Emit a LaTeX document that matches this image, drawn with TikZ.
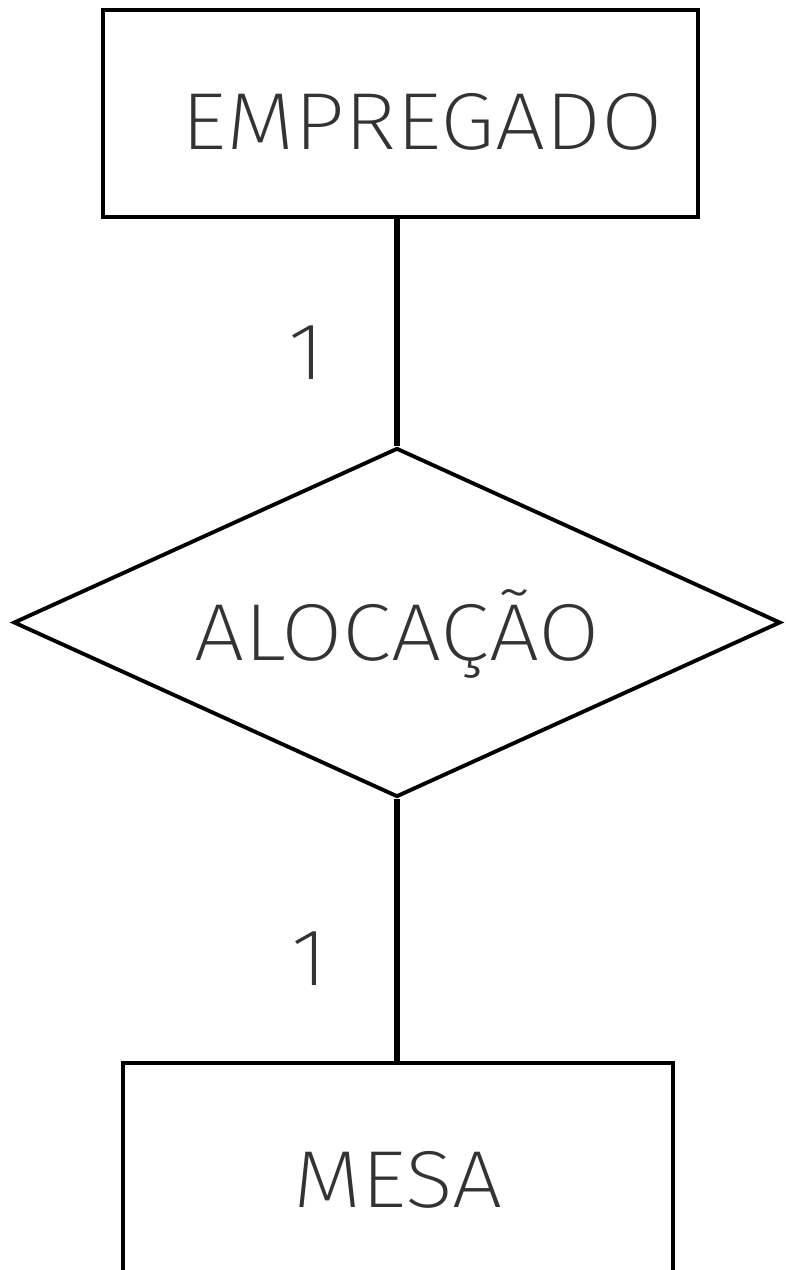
\documentclass[tikz,border=0pt]{standalone}
\usepackage{fontspec}
\newfontfamily\cadfont[FakeStretch=1.1]{Fira Sans ExtraLight}
\usetikzlibrary{shapes.geometric}

\begin{document}
\begin{tikzpicture}[every node/.style={font=\cadfont\fontsize{23}{23}\selectfont, text=black!80},
  entity/.style={draw=black, line width=1.3pt, rectangle, inner sep=0pt},
  relation/.style={draw=black, line width=1.1pt, diamond, shape aspect=2.2, inner sep=0pt},
  link/.style={line width=1.5pt}]
\useasboundingbox (0, 0) rectangle (7.85, 12.7);

\node[entity, minimum width=5.95cm, minimum height=2.07cm] (emp) at (4.005, 11.565) {\hspace*{0.43cm}\raisebox{-0.36cm}[0pt][0pt]{EMPREGADO}};
\node[relation, minimum width=7.67cm, minimum height=3.49cm] (rel) at (3.97, 6.475) {\raisebox{-0.38cm}[0pt][0pt]{ALOCAÇÃO}};
\node[entity, minimum width=5.5cm, minimum height=2.34cm] (mesa) at (3.98, 0.9) {MESA};

\draw[link] (emp.south -| rel.north) -- (rel.north) node[pos=0.59, xshift=-0.9cm] (c1) {1};
\draw[link] (rel.south) -- (mesa.north -| rel.south) node[pos=0.61, xshift=-0.87cm] (c2) {1};
\end{tikzpicture}
\end{document}
